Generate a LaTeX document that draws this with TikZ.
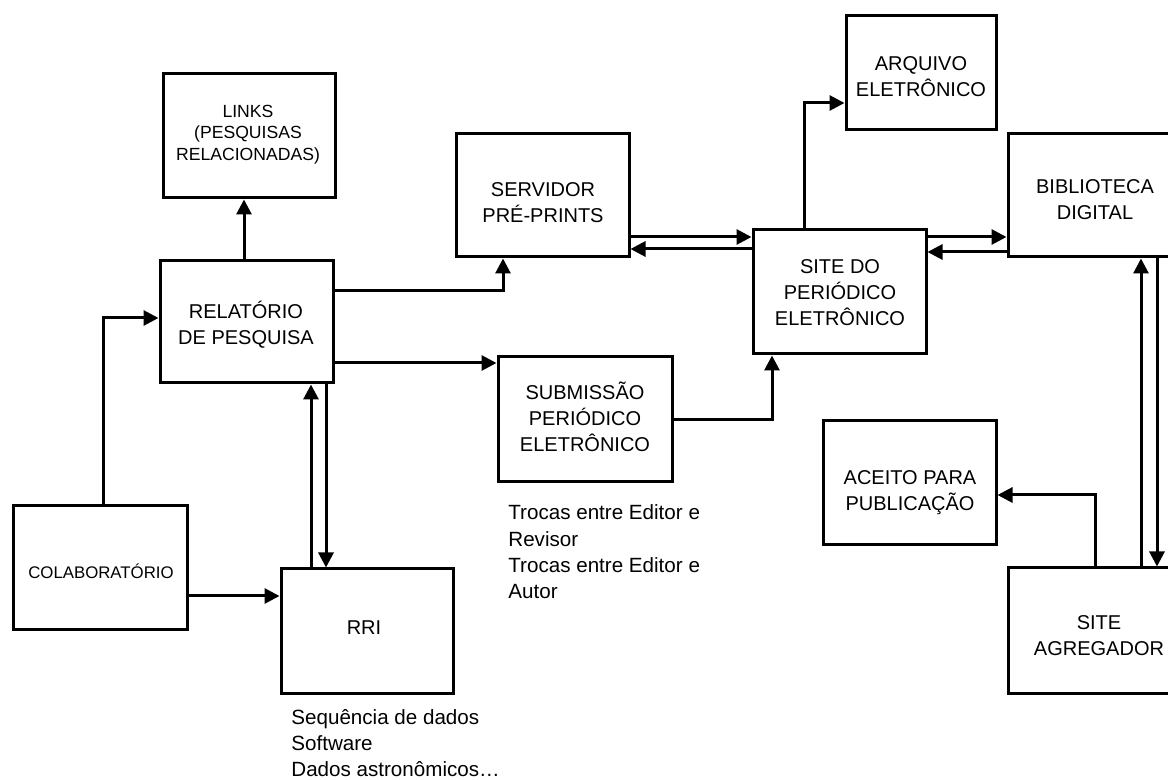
\documentclass[tikz,border=0pt]{standalone}
\usepackage{fontspec}
\setmainfont{Liberation Sans}
\usetikzlibrary{arrows.meta}
\begin{document}
\begin{tikzpicture}[x=0.5pt,y=-0.5pt,
  box/.style={draw, line width=1.5pt, inner sep=0pt, minimum width=86.5pt, minimum height=62pt},
  lbl/.style={align=center, inner sep=0pt, font=\fontsize{10}{13}\selectfont},
  small/.style={align=center, inner sep=0pt, font=\fontsize{8.8}{10.75}\selectfont},
  note/.style={align=left, inner sep=0pt, anchor=west, font=\fontsize{10.3}{13.2}\selectfont},
  conn/.style={line width=1.5pt, -{Triangle[length=7.5pt,width=7.5pt]}}]
\useasboundingbox (0,0) rectangle (1168,780);

% boxes
\node[box, minimum width=86pt] (links) at (249,136) {};
\node[box, minimum height=61pt] (rel) at (246.5,322) {};
\node[box, minimum height=61.5pt] (serv) at (542.5,195.5) {};
\node[box, minimum width=75pt, minimum height=57pt] (arq) at (921,73) {};
\node[box, minimum width=87pt, minimum height=61.5pt] (bib) at (1095,195.5) {};
\node[box] (site) at (839.5,292) {};
\node[box, minimum width=87pt, minimum height=62.5pt] (sub) at (585,419.5) {};
\node[box] (ace) at (909.5,483) {};
\node[box, minimum width=87pt, minimum height=61.5pt] (col) at (100,567.5) {};
\node[box, minimum width=86pt] (rri) at (367,631) {};
\node[box, minimum width=87pt, minimum height=62.5pt] (agr) at (1095,630.5) {};

% box labels
\node[small] (linkst) at (248,134.5) {LINKS\\(PESQUISAS\\RELACIONADAS)};
\node[lbl] (relt) at (246,325) {RELATÓRIO\\DE PESQUISA};
\node[lbl] (servt) at (543,203) {SERVIDOR\\PRÉ-PRINTS};
\node[lbl] (arqt) at (921,77) {ARQUIVO\\ELETRÔNICO};
\node[lbl] (bibt) at (1095,200) {BIBLIOTECA\\DIGITAL};
\node[lbl] (sitet) at (840,292.5) {SITE DO\\PERIÓDICO\\ELETRÔNICO};
\node[lbl] (subt) at (585,416.7) {SUBMISSÃO\\PERIÓDICO\\ELETRÔNICO};
\node[lbl] (acet) at (910,492.5) {ACEITO PARA\\PUBLICAÇÃO};
\node[inner sep=0pt, font=\fontsize{8.4}{10}\selectfont] (colt) at (101,571) {COLABORATÓRIO};
\node[lbl] (rrit) at (364,628) {RRI};
\node[lbl] (agrt) at (1099,636) {SITE\\AGREGADOR};

% notes
\node[note] (rrinote) at (291,743) {Sequência de dados\\Software\\Dados astronômicos…};
\node[note] (subnote) at (508,552) {Trocas entre Editor e\\Revisor\\Trocas entre Editor e\\Autor};

% bend and offset points
\coordinate (k1) at (103,318);
\coordinate (k2) at (311,0);
\coordinate (k3) at (326,0);
\coordinate (k4) at (503,291);
\coordinate (k5) at (0,363);
\coordinate (k6) at (0,237);
\coordinate (k7) at (0,249);
\coordinate (k8) at (772,420);
\coordinate (k9) at (804,103);
\coordinate (k10) at (0,237);
\coordinate (k11) at (0,252);
\coordinate (k12) at (1141,0);
\coordinate (k13) at (1157,0);
\coordinate (k14) at (1095,495);
\coordinate (k15) at (0,596);
\coordinate (k16) at (244,0);

% connectors
\draw[conn] (rel.north -| k16) -- (links.south -| k16);
\draw[conn] (col.north -| k1) |- (rel.west |- k1);
\draw[conn] (col.east |- k15) -- (rri.west |- k15);
\draw[conn] (rri.north -| k2) -- (rel.south -| k2);
\draw[conn] (rel.south -| k3) -- (rri.north -| k3);
\draw[conn] (rel.east |- k4) -| (serv.south -| k4);
\draw[conn] (rel.east |- k5) -- (sub.west |- k5);
\draw[conn] (serv.east |- k6) -- (site.west |- k6);
\draw[conn] (site.west |- k7) -- (serv.east |- k7);
\draw[conn] (sub.east |- k8) -| (site.south -| k8);
\draw[conn] (site.north -| k9) |- (arq.west |- k9);
\draw[conn] (site.east |- k10) -- (bib.west |- k10);
\draw[conn] (bib.west |- k11) -- (site.east |- k11);
\draw[conn] (agr.north -| k12) -- (bib.south -| k12);
\draw[conn] (bib.south -| k13) -- (agr.north -| k13);
\draw[conn] (agr.north -| k14) |- (ace.east |- k14);
\end{tikzpicture}
\end{document}
